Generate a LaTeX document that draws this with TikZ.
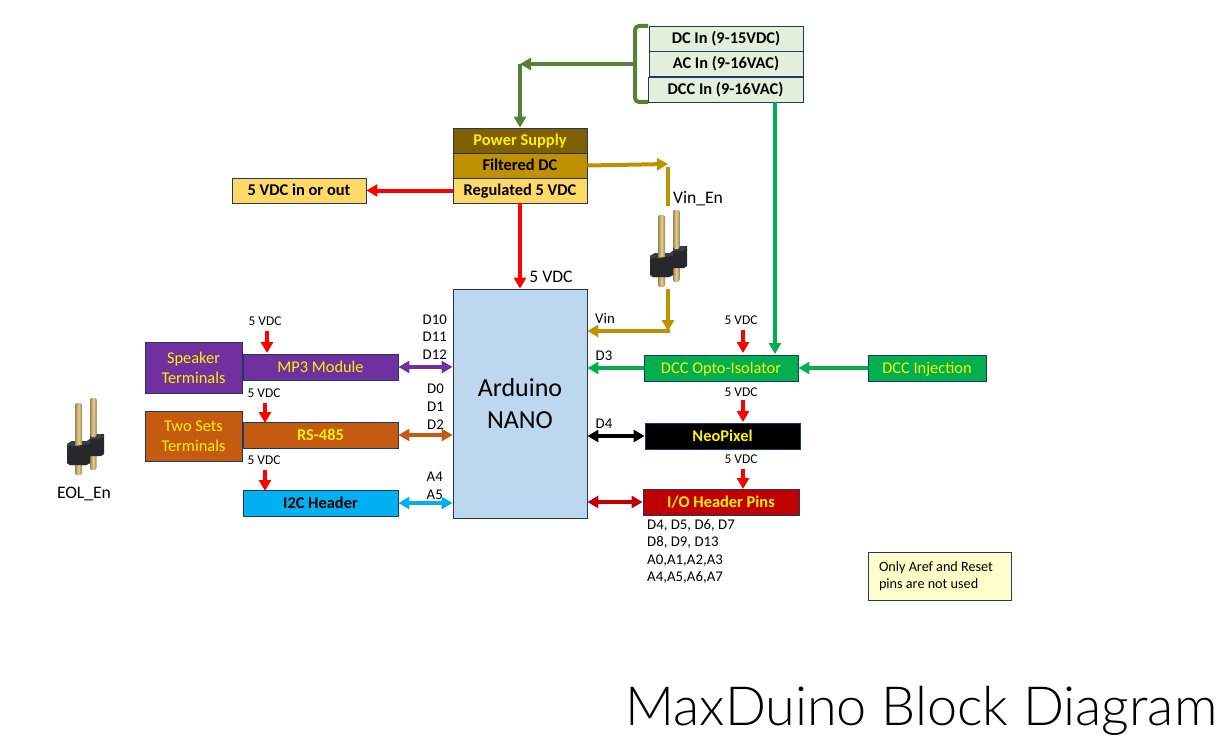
\documentclass[tikz,border=0pt]{standalone}
\usepackage{fontspec}
\setmainfont{Carlito}
\newfontfamily\titlefont{Lato Light}
\usetikzlibrary{arrows.meta}
\definecolor{navy}{HTML}{1F3864}
\definecolor{psdark}{HTML}{7F6000}
\definecolor{psmid}{HTML}{BF9000}
\definecolor{pslight}{HTML}{FFD966}
\definecolor{ingreen}{HTML}{E2EFDA}
\definecolor{leaf}{HTML}{548235}
\definecolor{nano}{HTML}{BDD7EE}
\definecolor{mpviolet}{HTML}{7030A0}
\definecolor{rsbrown}{HTML}{C55A11}
\definecolor{iicblue}{HTML}{00B0F0}
\definecolor{optogreen}{HTML}{00B050}
\definecolor{iored}{HTML}{C00000}
\definecolor{notepale}{HTML}{FFFFCC}
\definecolor{pinedge}{HTML}{9A8350}
\definecolor{pingold}{HTML}{E6D08E}
\definecolor{plastic}{HTML}{26282B}
\definecolor{plastictop}{HTML}{3C3E42}
\tikzset{
  box/.style={draw=navy,line width=0.8pt,inner sep=0pt,align=center,font=\fontsize{16.4}{20}\selectfont},
  onerow/.style={box,text height=12pt,text depth=2pt},
  boldbox/.style={onerow,font=\fontsize{16.4}{20}\selectfont\bfseries},
  wire/.style={line width=4pt,-{Triangle[width=12pt,length=11pt]}},
  biwire/.style={line width=4pt,{Triangle[width=12pt,length=11pt]}-{Triangle[width=12pt,length=11pt]}},
  bare/.style={line width=4pt},
  feed/.style={wire,red,line width=4.5pt},
  pinlbl/.style={inner sep=0pt,align=right,font=\fontsize{14.8}{17.6}\selectfont},
  vlbl/.style={inner sep=0pt,font=\fontsize{13.4}{16}\selectfont},
  biglbl/.style={inner sep=0pt,font=\fontsize{17.6}{21}\selectfont},
  pinbody/.style={left color=pinedge,right color=pinedge,middle color=pingold,rounded corners=2pt},
  header/.pic={
    \shade[pinbody] (15,-5) rectangle (21.5,67);
    \fill[plastic] (15,31) -- (29,31) -- (29,51) -- (26,53) -- (15,53) -- cycle;
    \fill[plastictop] (15,33) -- (19,31) -- (25,31) -- (29,33) -- (25,36) -- (15,36) -- cycle;
    \shade[pinbody] (15,-5) rectangle (21.5,34);
    \fill[plastic] (-8,41) -- (-3,38) -- (12,38) -- (15,36) -- (15,60) -- (11,62) -- (-5,62) -- (-8,60) -- cycle;
    \fill[plastictop] (-8,41) -- (-3,38) -- (12,38) -- (15,36) -- (15,41) -- (-8,44) -- cycle;
    \shade[pinbody] (0,0) rectangle (7,72);
    \fill[plastic] (-8,44) -- (15,41) -- (15,60) -- (11,62) -- (-5,62) -- (-8,60) -- cycle;
  }
}
\begin{document}
\begin{tikzpicture}[x=1pt,y=-1pt]
  \useasboundingbox (0,0) rectangle (1232,741);
  \node[boldbox,fill=ingreen,minimum width=154pt,minimum height=25pt] (dcin) at (726,38.5) {DC In (9-15VDC)};
  \node[boldbox,fill=ingreen,minimum width=154pt,minimum height=25pt] (acin) at (726,63.5) {AC In (9-16VAC)};
  \node[boldbox,fill=ingreen,minimum width=155pt,minimum height=25pt] (dccin) at (725.5,89.5) {DCC In (9-16VAC)};
  \node[boldbox,fill=psdark,text=yellow,minimum width=134pt,minimum height=25pt] (psu) at (520,140.5) {Power Supply};
  \node[boldbox,fill=psmid,minimum width=134pt,minimum height=25pt] (filt) at (520,165.5) {Filtered DC};
  \node[boldbox,fill=pslight,minimum width=134pt,minimum height=25pt] (reg) at (520,190.5) {Regulated 5 VDC};
  \node[boldbox,fill=pslight,minimum width=134pt,minimum height=25pt] (ext) at (299,190.5) {5 VDC in or out};
  \node[box,fill=nano,minimum width=134pt,minimum height=229pt,font=\fontsize{26}{32}\selectfont] (ard) at (520,403.5) {Arduino\\NANO};
  \node[onerow,fill=mpviolet,text=yellow,minimum width=155pt,minimum height=26pt] (mp3) at (320.5,367) {MP3 Module};
  \node[box,fill=mpviolet,text=yellow,minimum width=97pt,minimum height=51pt] (spk) at (193.5,367.5) {Speaker\\Terminals};
  \node[boldbox,fill=rsbrown,text=yellow,minimum width=155pt,minimum height=26pt] (rs) at (320.5,435) {RS-485};
  \node[box,fill=rsbrown,text=yellow,minimum width=97pt,minimum height=50pt] (term) at (193.5,436) {Two Sets\\Terminals};
  \node[boldbox,fill=iicblue,minimum width=155pt,minimum height=26pt] (iic) at (320.5,503) {I2C Header};
  \node[onerow,fill=optogreen,text=yellow,minimum width=154pt,minimum height=26pt] (opto) at (721,368) {DCC Opto-Isolator};
  \node[onerow,fill=optogreen,text=yellow,minimum width=118pt,minimum height=26pt] (inj) at (927,368) {DCC Injection};
  \node[boldbox,fill=black,text=yellow,minimum width=155pt,minimum height=26pt] (neo) at (722.5,436) {NeoPixel};
  \node[boldbox,fill=iored,text=yellow,minimum width=156pt,minimum height=26pt] (io) at (721,502) {I/O Header Pins};
  \node[draw=navy,line width=0.8pt,fill=notepale,minimum width=143pt,minimum height=48pt,inner sep=0pt,text width=121pt,align=flush left,font=\fontsize{14.2}{17}\selectfont] (note) at (939.5,576) {Only Aref and Reset\\pins are not used};
  \pic at (658,215) {header};
  \pic at (75,403) {header};
  \node[biglbl] (vinen) at (698,198.5) {Vin\_En};
  \node[biglbl] (eolen) at (84,494) {EOL\_En};
  \node[biglbl] (fivev) at (551,277) {5 VDC};
  \node[inner sep=0pt,anchor=base,font=\titlefont\fontsize{54}{60}\selectfont] (title) at (921.5,725) {MaxDuino Block Diagram};
  \node[pinlbl,anchor=north east] (mplbl) at (447,314.5) {D10\\D11\\D12};
  \node[pinlbl,anchor=north east] (rslbl) at (444,384) {D0\\D1\\D2};
  \node[pinlbl,anchor=north east] (iiclbl) at (443,472) {A4\\A5};
  \node[pinlbl] (vinlbl) at (605,318) {Vin};
  \node[pinlbl] (dthree) at (604,356) {D3};
  \node[pinlbl] (dfour) at (604,424) {D4};
  \node[pinlbl,anchor=north west,align=left] (iolbl) at (647,519) {D4, D5, D6, D7\\D8, D9, D13\\A0,A1,A2,A3\\A4,A5,A6,A7};
  \node[vlbl] (vmp) at (265,321) {5 VDC};
  \node[vlbl] (vrs) at (264,393) {5 VDC};
  \node[vlbl] (viic) at (264,460) {5 VDC};
  \node[vlbl] (vopto) at (741,320) {5 VDC};
  \node[vlbl] (vneo) at (741,392) {5 VDC};
  \node[vlbl] (vio) at (741,459) {5 VDC};
  \coordinate (brtop) at (648,26);
  \coordinate (brbot) at (648,102);
  \coordinate (brmid) at (635,64);
  \coordinate (bend) at (520,64);
  \coordinate (vintip) at (668,164);
  \coordinate (pinin) at (667,206);
  \coordinate (pinout) at (668,289);
  \coordinate (vinjoin) at (668,331);
  \draw[leaf,line width=4pt,rounded corners=4pt] (brtop) -- (635,26) -- (635,102) -- (brbot);
  \draw[wire,leaf] (brmid) -- (bend);
  \draw[wire,leaf] (bend) -- (psu.north);
  \draw[wire,psmid] (filt.east) -- (vintip);
  \draw[bare,psmid] (vintip |- 0,167) -- (pinin -| vintip);
  \draw[wire,psmid] (pinout) -- (vinjoin);
  \draw[wire,psmid,shorten <=-2pt] (vinjoin) -- (vinjoin -| ard.east);
  \draw[wire,red] (reg.west) -- (ext.east);
  \draw[wire,red] (reg.south) -- (reg.south |- ard.north);
  \draw[wire,optogreen] (dccin.south -| 775,0) -- (775,354);
  \draw[wire,optogreen] (inj.west) -- (opto.east);
  \draw[wire,optogreen] (opto.west) -- (opto.west -| ard.east);
  \draw[biwire,black] (ard.east |- neo) -- (neo.west);
  \draw[biwire,iored] (ard.east |- io) -- (io.west);
  \draw[biwire,mpviolet] (mp3.east) -- (mp3.east -| ard.west);
  \draw[biwire,rsbrown] (rs.east) -- (rs.east -| ard.west);
  \draw[biwire,iicblue] (iic.east) -- (iic.east -| ard.west);
  \draw[feed] (267,331) -- (267,353);
  \draw[feed] (265,403) -- (265,423);
  \draw[feed] (265,470) -- (265,491);
  \draw[feed] (743,330) -- (743,353);
  \draw[feed] (743,400) -- (743,422);
  \draw[feed] (743,469) -- (743,489);
\end{tikzpicture}
\end{document}
